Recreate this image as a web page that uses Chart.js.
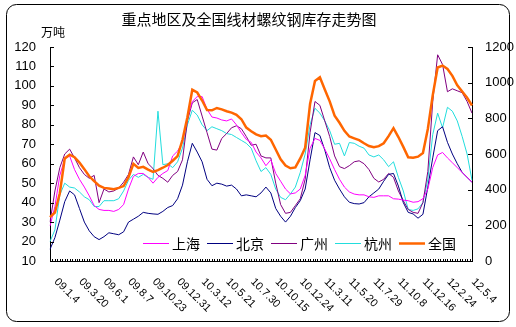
<!DOCTYPE html>
<html>
<head>
<meta charset="utf-8">
<script src="https://cdn.jsdelivr.net/npm/chart.js@4/dist/chart.umd.min.js"></script>
<style>
html, body { margin: 0; padding: 0; background: #fff; }
#wrap { width: 516px; height: 327px; }
</style>
</head>
<body>
<div id="wrap"><canvas id="stockChart" width="516" height="327"></canvas></div>
<script>
// one point every two weeks, a date label every 5 points
const tickLabels = ['09.1.4', '09.3.20', '09.6.1', '09.8.7', '09.10.23', '09.12.31', '10.3.12', '10.5.21', '10.7.30',
    '10.10.15', '10.12.24', '11.3.11', '11.5.20', '11.7.29', '11.10.8', '11.12.16', '12.2.24', '12.5.4'];

const seriesNames = ['上海', '北京', '广州', '杭州', '全国'];
const seriesColors = ['#FF00FF', '#000080', '#800080', '#22DDDD', '#FF6600'];

// 万吨, left axis
const shanghai = [28, 38, 54, 62.5, 64, 57, 52, 48, 43.5, 38.5, 36.5, 36, 36, 35.5, 36.5, 39, 47, 53.5, 55, 55,
    53, 50, 53, 55, 56.5, 64, 66.5, 71, 83.5, 92, 94.5, 94.5, 88, 84, 83.5, 82.5, 82, 83, 80, 76,
    72.5, 71, 66, 63, 59, 62, 55, 51, 47, 44.5, 45, 47, 54, 68, 73, 72, 67.5, 62.5, 57, 52,
    48, 45.5, 44.4, 44, 44, 43, 42.7, 43.5, 43.5, 43.5, 42, 41.8, 41.3, 41, 40.2, 40.5, 42, 47, 58, 64.5,
    65.8, 63, 60.5, 58, 55.5, 53, 50.5];
const beijing = [16, 22, 31, 40.5, 46, 44, 37, 30, 25.5, 22.5, 21, 22.5, 24.5, 24, 23.5, 25, 30, 31.5, 33, 35,
    34.5, 34.2, 34, 35.5, 37.5, 38.5, 42, 49, 61, 70.5, 66, 61, 52, 48.7, 50, 49.5, 48.5, 49, 47, 43.5,
    44, 43.5, 43, 45, 48, 45, 37, 33, 30, 33, 37.5, 41, 47, 62, 76, 74.5, 67, 58, 51.5, 47,
    43, 40.2, 39.5, 39.3, 40, 43, 45, 47, 51, 54.5, 55, 48.5, 40, 35, 34.2, 32, 34, 48, 63, 77,
    79, 71, 65, 60, 55.5, 53, 50.5];
const guangzhou = [30, 46, 58, 65, 67.5, 63, 58, 54.5, 52.5, 54, 40, 47, 45.5, 46, 47.5, 50.5, 54.5, 63.5, 59.5, 66,
    60, 57.5, 54, 52.5, 50.5, 54, 56, 62, 82, 91.3, 93, 84.5, 76, 67.5, 67, 73, 75.5, 78.5, 79.5, 78,
    74, 69.5, 70, 64, 63, 63, 50, 39, 34.5, 35, 38.5, 42, 52, 76, 92, 90, 82, 74, 64, 58.5,
    57.5, 59, 61, 61.5, 60, 57, 52.5, 50.6, 52, 55, 53, 46, 41, 36.5, 35, 34.5, 40, 56, 92, 116,
    111, 97, 98.5, 97.5, 96.5, 92, 86];
const hangzhou = [20, 26, 44, 50, 48, 47.5, 45.5, 43, 41.5, 38, 38, 41, 41, 41, 42, 46, 51.5, 54.5, 53, 54.5,
    53, 52, 87, 59.5, 60, 58, 61, 68, 80, 87.5, 85, 80, 77, 79, 78, 77, 75.5, 75, 73.5, 72,
    70.5, 68, 61.5, 56, 58, 54.5, 47, 42.7, 41.5, 44.5, 48, 55.5, 65, 80, 88.5, 86, 82, 77, 70, 70.5,
    64, 70.9, 70.5, 69, 68, 64.5, 63.5, 64.5, 62, 58.5, 61, 53, 46, 36.5, 36, 36.8, 40, 52, 75, 86,
    78.5, 89, 87, 82, 74, 65, 51.5];
// 全国, right axis
const quanguo = [246, 272, 380, 575, 596, 582, 552, 515, 475, 448, 422, 410, 407, 402, 410, 420, 470, 545, 522, 528,
    512, 500, 510, 523, 538, 562, 588, 680, 806, 960, 945, 900, 846, 845, 858, 850, 840, 832, 820, 795,
    748, 728, 710, 700, 704, 680, 625, 570, 535, 520, 525, 575, 635, 880, 1010, 1030, 962, 895, 815, 775,
    730, 698, 688, 678, 660, 645, 638, 644, 660, 700, 745, 695, 640, 582, 579, 585, 605, 740, 930, 1085,
    1096, 1077, 1038, 985, 950, 915, 872];

const chartTitle = '重点地区及全国线材螺纹钢库存走势图';
const unitLabel = '万吨';

const labels = shanghai.map((v, i) => (i % 5 === 0 ? tickLabels[i / 5] : ''));
const cjk = '"Noto Sans CJK SC", sans-serif';

function makeSet(i, data, axis) {
    return {
        label: seriesNames[i],
        data: data,
        yAxisID: axis,
        borderColor: seriesColors[i],
        backgroundColor: seriesColors[i],
        borderWidth: axis === 'y1' ? 2.5 : 1,
        pointRadius: 0,
        tension: 0,
        order: axis === 'y1' ? 0 : 1
    };
}

const decor = {
    id: 'decor',
    beforeDraw(chart) {
        const ctx = chart.ctx;
        ctx.save();
        ctx.fillStyle = '#fff';
        ctx.fillRect(0, 0, chart.width, chart.height);
        ctx.beginPath();
        ctx.roundRect(6.5, 4.5, 503, 317, 10);
        ctx.strokeStyle = '#000';
        ctx.lineWidth = 1;
        ctx.stroke();
        ctx.restore();
    },
    afterDraw(chart) {
        const { ctx, chartArea: a, scales } = chart;
        ctx.save();
        ctx.fillStyle = '#000';
        ctx.textAlign = 'center';
        ctx.textBaseline = 'middle';
        ctx.font = '15px ' + cjk;
        ctx.fillText(chartTitle, 249, 19);
        ctx.font = '12px ' + cjk;
        ctx.fillText(unitLabel, 53, 32);

        // inward tick marks
        ctx.strokeStyle = '#000';
        ctx.lineWidth = 1;
        ctx.beginPath();
        scales.y.ticks.forEach(t => {
            const y = Math.round(scales.y.getPixelForValue(t.value)) + 0.5;
            ctx.moveTo(a.left, y);
            ctx.lineTo(a.left + 4, y);
        });
        scales.y1.ticks.forEach(t => {
            const y = Math.round(scales.y1.getPixelForValue(t.value)) + 0.5;
            ctx.moveTo(a.right, y);
            ctx.lineTo(a.right - 4, y);
        });
        for (let i = 0; i < labels.length - 0.5; i += 0.5) {
            const x = Math.round(scales.x.getPixelForValue(i)) + 0.5;
            ctx.moveTo(x, a.bottom);
            ctx.lineTo(x, a.bottom - 2);
        }
        ctx.stroke();

        // slanted date labels
        ctx.font = '11px Arial';
        ctx.textAlign = 'left';
        tickLabels.forEach((t, i) => {
            const x = scales.x.getPixelForValue(i * 5);
            ctx.save();
            ctx.translate(x + 6, 280);
            ctx.rotate(Math.PI / 4);
            ctx.fillText(t, 0, 0);
            ctx.restore();
        });

        // legend inside the plot
        ctx.font = '14px ' + cjk;
        let lx = 143;
        const ly = 243.5;
        seriesNames.forEach((name, i) => {
            ctx.beginPath();
            ctx.strokeStyle = seriesColors[i];
            ctx.lineWidth = i === 4 ? 2.5 : 1;
            ctx.moveTo(lx, ly);
            ctx.lineTo(lx + 26, ly);
            ctx.stroke();
            ctx.fillStyle = '#000';
            ctx.fillText(name, lx + 29, ly);
            lx += 64;
        });
        ctx.restore();
    }
};

Chart.defaults.font.family = 'Arial';
Chart.defaults.color = '#000';

new Chart(document.getElementById('stockChart'), {
    type: 'line',
    data: {
        labels: labels,
        datasets: [
            makeSet(0, shanghai, 'y'),
            makeSet(1, beijing, 'y'),
            makeSet(2, guangzhou, 'y'),
            makeSet(3, hangzhou, 'y'),
            makeSet(4, quanguo, 'y1')
        ]
    },
    options: {
        responsive: false,
        animation: false,
        layout: { padding: { top: 47, left: 0, right: 0, bottom: 0 } },
        plugins: {
            legend: { display: false },
            title: { display: false },
            tooltip: { enabled: false }
        },
        scales: {
            x: {
                grid: { display: false, drawTicks: false },
                border: { display: true, color: '#000', width: 1 },
                ticks: { display: false },
                afterFit: s => { s.height = 66; }
            },
            y: {
                position: 'left',
                min: 10,
                max: 120,
                ticks: { stepSize: 10, padding: 14, font: { size: 13 }, color: '#000', callback: v => String(v) },
                grid: { display: false, drawTicks: false },
                border: { display: true, color: '#000', width: 1 },
                afterFit: s => { s.width = 50; }
            },
            y1: {
                position: 'right',
                min: 0,
                max: 1200,
                ticks: { stepSize: 200, padding: 13, font: { size: 13 }, color: '#000', callback: v => String(v) },
                grid: { display: false, drawTicks: false },
                border: { display: true, color: '#000', width: 1 },
                afterFit: s => { s.width = 44; }
            }
        }
    },
    plugins: [decor]
});
</script>
</body>
</html>
